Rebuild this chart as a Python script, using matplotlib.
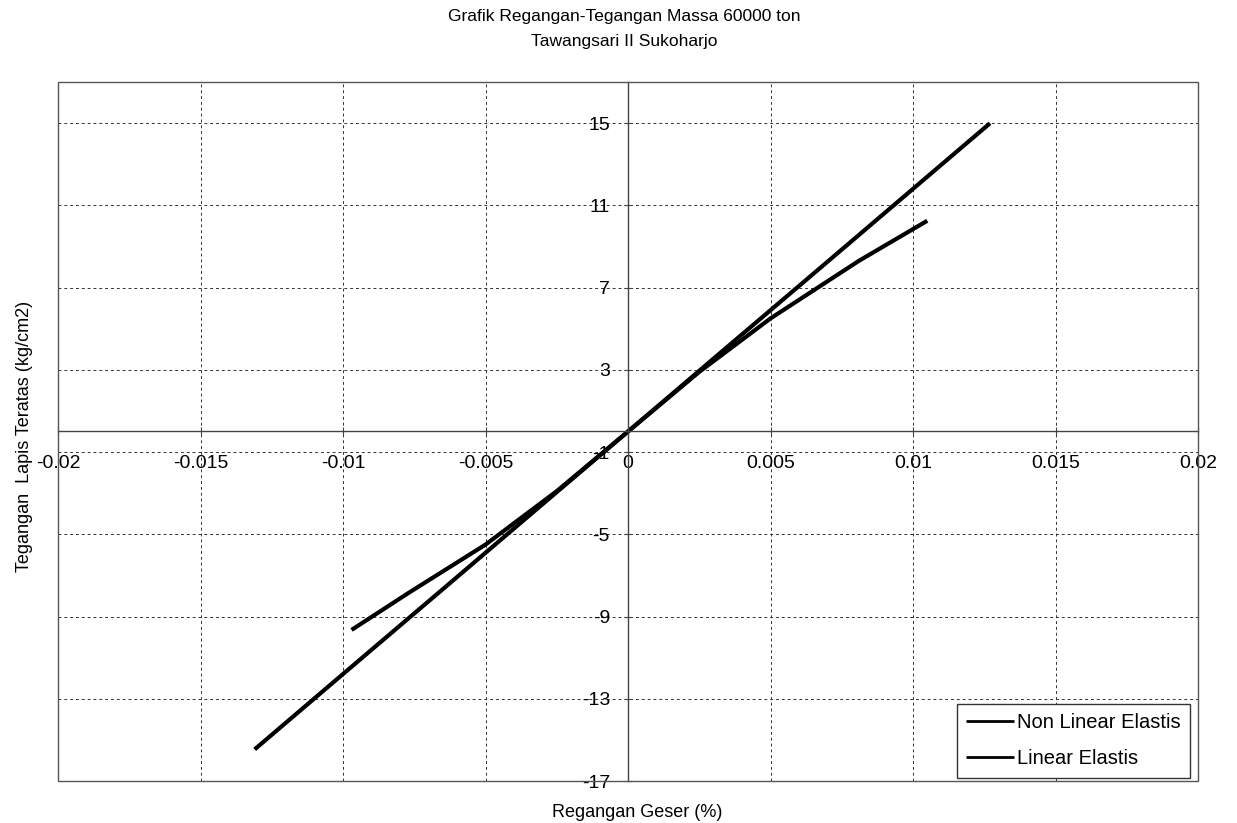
import matplotlib.pyplot as plt
from matplotlib.patches import Rectangle

# Shear strain (%) vs top-layer stress (kg/cm2)
strain_nonlinear = [-0.0097, -0.0077, -0.0050, -0.0025, 0.0, 0.0025, 0.0050, 0.0081, 0.0105]
stress_nonlinear = [-9.65, -7.85, -5.5, -2.9, 0.0, 2.9, 5.5, 8.3, 10.25]

strain_linear = [-0.0131, -0.0098, -0.0065, -0.0033, 0.0, 0.0032, 0.0064, 0.0096, 0.0127]
stress_linear = [-15.46, -11.56, -7.67, -3.89, 0.0, 3.78, 7.55, 11.33, 14.99]

x_ticks = [-0.02, -0.015, -0.01, -0.005, 0, 0.005, 0.01, 0.015, 0.02]
x_tick_labels = ['-0.02', '-0.015', '-0.01', '-0.005', '0', '0.005', '0.01', '0.015', '0.02']
y_ticks = [-17, -13, -9, -5, -1, 3, 7, 11, 15]

plt.rcParams['font.family'] = ['Liberation Sans', 'DejaVu Sans']
plt.rcParams['axes.unicode_minus'] = False

fig = plt.figure(figsize=(12.37, 8.23), dpi=100)
ax = fig.add_axes([0.0469, 0.051, 0.9216, 0.8494])

ax.plot(strain_nonlinear, stress_nonlinear, color='black', lw=3.0,
        solid_capstyle='butt', label='Non Linear Elastis')
ax.plot(strain_linear, stress_linear, color='black', lw=3.0,
        solid_capstyle='butt', label='Linear Elastis')

ax.set_xlim(-0.02, 0.02)
ax.set_ylim(-17, 17)
ax.set_xticks(x_ticks)
ax.set_xticklabels(x_tick_labels)
ax.set_yticks(y_ticks)

# axes cross at the origin, Excel style
for side in ['top', 'right']:
    ax.spines[side].set_visible(False)
ax.spines['left'].set_position('zero')
ax.spines['bottom'].set_position('zero')
for side in ['left', 'bottom']:
    ax.spines[side].set_color('#444444')
    ax.spines[side].set_linewidth(1.0)

# outer plot-area border
ax.add_patch(Rectangle((0, 0), 1, 1, transform=ax.transAxes, fill=False,
                       edgecolor='#555555', lw=1.0, clip_on=False, zorder=5))

ax.grid(True, color='#333333', linestyle=(0, (3, 3)), linewidth=0.7)
ax.set_axisbelow(True)
ax.tick_params(axis='x', direction='inout', length=6, pad=14, labelsize=14, color='#444444')
ax.tick_params(axis='y', direction='inout', length=6, pad=10, labelsize=14, color='#444444')

fig.text(0.505, 0.980, 'Grafik Regangan-Tegangan Massa 60000 ton',
         ha='center', va='center', fontsize=12.5)
fig.text(0.505, 0.950, 'Tawangsari II Sukoharjo',
         ha='center', va='center', fontsize=12.5)
fig.text(0.515, 0.013, 'Regangan Geser (%)', ha='center', va='center', fontsize=13)
fig.text(0.02, 0.47, 'Tegangan  Lapis Teratas (kg/cm2)', ha='center', va='center',
         rotation=90, fontsize=13)

leg = ax.legend(loc='lower right', bbox_to_anchor=(0.993, 0.005), borderaxespad=0,
                fontsize=14.5, handlelength=2.4, handletextpad=0.15,
                labelspacing=0.85, borderpad=0.45, fancybox=False,
                framealpha=1, edgecolor='#333333')
leg.get_frame().set_linewidth(1.0)
for line in leg.get_lines():
    line.set_linewidth(2.0)

fig.savefig('out.png', dpi=100)
